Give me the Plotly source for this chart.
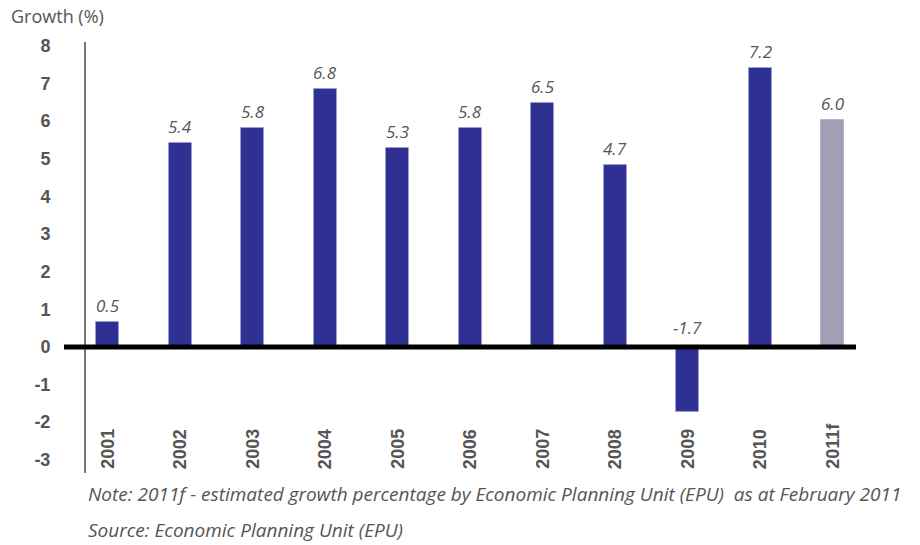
import plotly.graph_objects as go

categories = ["2001", "2002", "2003", "2004", "2005", "2006", "2007", "2008", "2009", "2010", "2011f"]
bar_heights = [0.65, 5.42, 5.82, 6.86, 5.29, 5.82, 6.49, 4.84, -1.73, 7.42, 6.04]
value_labels = ["0.5", "5.4", "5.8", "6.8", "5.3", "5.8", "6.5", "4.7", "-1.7", "7.2", "6.0"]
y_ticks = [8, 7, 6, 5, 4, 3, 2, 1, 0, -1, -2, -3]

BLUE = "#2E3192"
FORECAST = "#A39DB5"
colors = [FORECAST if c.endswith("f") else BLUE for c in categories]
xs = list(range(len(categories)))

W, H = 920, 545
L, R, T, B = 86, 62, 42, 72
pw, ph = W - L - R, H - T - B

fig = go.Figure()
fig.add_trace(go.Bar(
    x=xs, y=bar_heights, width=0.32,
    marker=dict(color=colors, line=dict(width=1, color="rgba(160,160,220,0.6)")),
    hoverinfo="skip",
))

annotations = []
for i, (h, t) in enumerate(zip(bar_heights, value_labels)):
    annotations.append(dict(
        x=i, y=max(h, 0), xref="x", yref="y", text="<i>%s</i>" % t, showarrow=False,
        yanchor="bottom", yshift=3 if h >= 0 else 6,
        font=dict(family="Open Sans", size=17, color="#555555"),
    ))
    annotations.append(dict(
        x=i, y=-3.3, xref="x", yref="y", text="<b>%s</b>" % categories[i],
        showarrow=False, textangle=-90, yanchor="bottom", xanchor="center",
        font=dict(family="Liberation Sans", size=18, color="#555555"),
    ))

def px_note(px, py, text, size):
    return dict(
        x=(px - L) / pw, y=1 - (py - T) / ph, xref="paper", yref="paper",
        xanchor="left", yanchor="middle", text=text, showarrow=False,
        font=dict(family="Open Sans", size=size, color="#555555"),
    )

annotations += [
    px_note(9, 16, "Growth (%)", 18),
    px_note(86, 494, "<i>Note: 2011f - estimated growth percentage by Economic Planning Unit (EPU)  as at February 2011</i>", 19),
    px_note(86, 530, "<i>Source: Economic Planning Unit (EPU)</i>", 19),
]

fig.update_layout(
    width=W, height=H,
    margin=dict(l=L, r=R, t=T, b=B),
    paper_bgcolor="white", plot_bgcolor="white",
    showlegend=False,
    bargap=0,
    xaxis=dict(range=[-0.3, 10.35], showticklabels=False, showgrid=False,
               zeroline=False, showline=False, ticks=""),
    yaxis=dict(range=[-3.35, 8.1], tickvals=y_ticks,
               ticktext=["<b>%d</b>" % v for v in y_ticks],
               tickfont=dict(family="Liberation Sans", size=18, color="#555555"),
               showgrid=False, zeroline=False, showline=True, linecolor="#777777",
               linewidth=2, ticks="", ticklabelstandoff=30),
    annotations=annotations,
    shapes=[dict(type="line", xref="paper", yref="y",
                 x0=(64 - L) / pw, x1=(856 - L) / pw, y0=0, y1=0,
                 line=dict(color="black", width=5))],
)

fig.write_html("out.html")
